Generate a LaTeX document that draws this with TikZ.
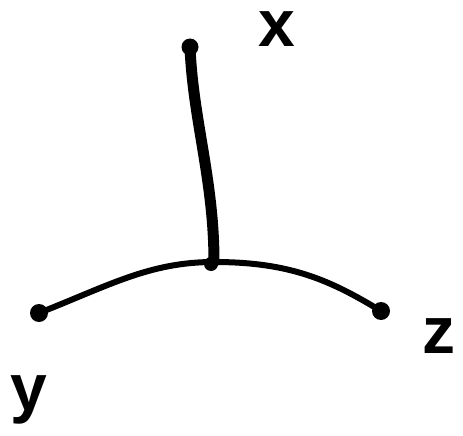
\documentclass[tikz,border=0pt]{standalone}
\usepackage{fontspec}
\setmainfont{Liberation Sans}
\usepackage{tikz}
\usetikzlibrary{arrows.meta,positioning,calc}

\tikzset{
  tipdot/.style={circle,fill=black,inner sep=0pt,minimum size=#1},
  axlabel/.style={font=\fontsize{66}{66}\selectfont\bfseries},
  stroke/.style={line width=#1,line cap=round,line join=round}
}

\begin{document}
\begin{tikzpicture}[x=1pt,y=-1pt]
  \useasboundingbox (0,0) rectangle (463,436);
  \coordinate (o) at (214,262);
  \node[tipdot=17pt] (xend) at (190,47) {};
  \node[tipdot=18pt] (yend) at (39,313) {};
  \node[tipdot=18pt] (zend) at (381,311) {};
  \node[tipdot=14pt] (hub) at (211,264) {};
  \node[axlabel] (xlab) at (277,29) {x};
  \node[axlabel] (ylab) at (29,400) {y};
  \node[axlabel] (zlab) at (439,336) {z};
  \draw[stroke=11pt] (o) .. controls (214,180) and (193,120) .. (xend.center);
  \draw[stroke=6pt] (o) .. controls (150,262) and (110,285) .. (yend.center);
  \draw[stroke=6pt] (o) .. controls (290,262) and (330,280) .. (zend.center);
\end{tikzpicture}
\end{document}
